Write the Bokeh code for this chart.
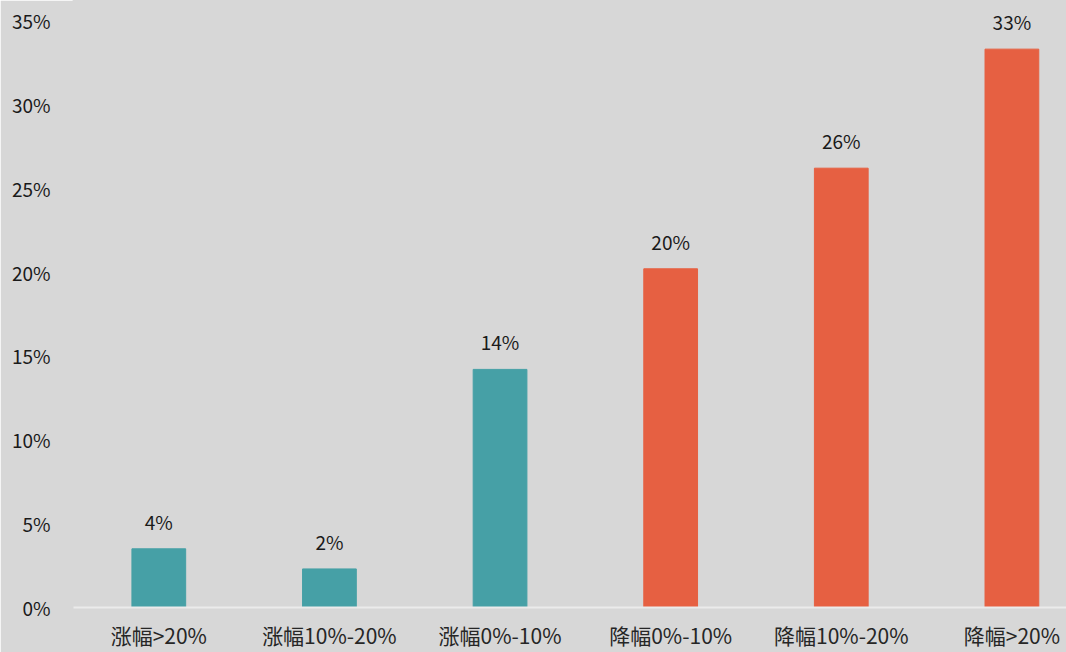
from bokeh.plotting import figure
from bokeh.models import ColumnDataSource, Range1d, FixedTicker, LabelSet
from bokeh.core.properties import value
from bokeh.embed import file_html
from bokeh.resources import INLINE

categories = ["涨幅>20%", "涨幅10%-20%", "涨幅0%-10%", "降幅0%-10%", "降幅10%-20%", "降幅>20%"]
values = [3.5, 2.3, 14.2, 20.2, 26.2, 33.3]
value_labels = ["4%", "2%", "14%", "20%", "26%", "33%"]
colors = ["#46a0a6", "#46a0a6", "#46a0a6", "#e66042", "#e66042", "#e66042"]
y_ticks = [0, 5, 10, 15, 20, 25, 30, 35]
y_tick_labels = ["0%", "5%", "10%", "15%", "20%", "25%", "30%", "35%"]

FONT = "Noto Sans CJK SC"
BG = "#d7d7d7"

src = ColumnDataSource(dict(x=list(range(len(categories))), v=values,
                            lab=value_labels, c=colors))

p = figure(width=1066, height=652, output_backend="svg", toolbar_location=None,
           x_range=Range1d(-0.5, 5.32), y_range=Range1d(0, 36.2),
           min_border_left=73, min_border_right=0, min_border_top=0, min_border_bottom=44)
p.background_fill_color = BG
p.border_fill_color = BG
p.outline_line_color = BG
p.outline_line_width = 2
p.xgrid.visible = False
p.ygrid.visible = False

p.vbar(x="x", top="v", width=0.315, color="c", source=src)

labels = LabelSet(x="x", y="v", text="lab", source=src, text_align="center",
                  text_baseline="bottom", y_offset=14, text_font=value(FONT),
                  text_font_size="19px", text_color="#1a1a1a")
p.add_layout(labels)

p.xaxis.ticker = FixedTicker(ticks=list(range(len(categories))))
p.xaxis.major_label_overrides = {i: c for i, c in enumerate(categories)}
p.xaxis.major_label_text_font = FONT
p.xaxis.major_label_text_font_size = "21px"
p.xaxis.major_label_text_color = "#262626"
p.xaxis.major_label_standoff = 6
p.xaxis.axis_line_color = "#ebebeb"
p.xaxis.axis_line_width = 2
p.xaxis.major_tick_line_color = None
p.xaxis.minor_tick_line_color = None

p.yaxis.ticker = FixedTicker(ticks=y_ticks)
p.yaxis.major_label_overrides = {t: l for t, l in zip(y_ticks, y_tick_labels)}
p.yaxis.major_label_text_font = FONT
p.yaxis.major_label_text_font_size = "19px"
p.yaxis.major_label_text_color = "#1a1a1a"
p.yaxis.major_label_standoff = 17
p.yaxis.axis_line_color = None
p.yaxis.major_tick_line_color = None
p.yaxis.minor_tick_line_color = None

open("out.html", "w").write(file_html(p, INLINE))
